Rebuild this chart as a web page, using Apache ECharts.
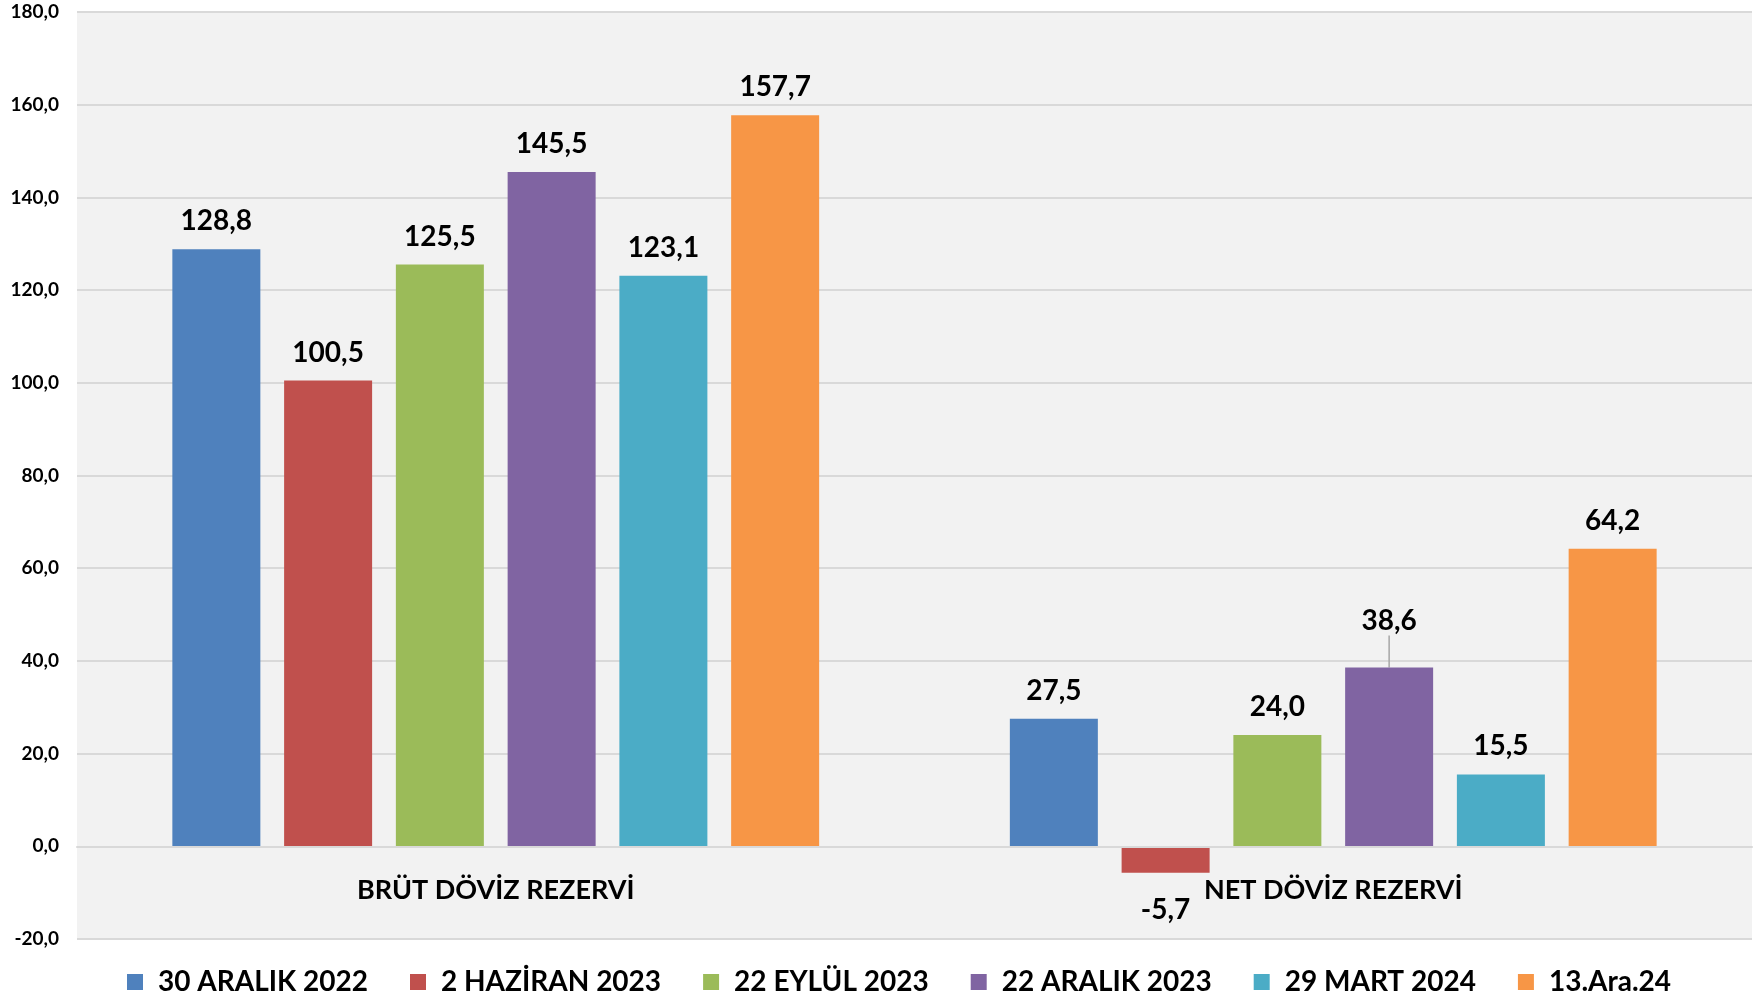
<!DOCTYPE html>
<html>
<head>
<meta charset="utf-8">
<script src="https://cdn.jsdelivr.net/npm/echarts@6/dist/echarts.min.js"></script>
<style>
html,body{margin:0;padding:0;background:#fff;}
#chart{width:1764px;height:996px;}
</style>
</head>
<body>
<div id="chart"></div>
<script>
var categories = ['BRÜT DÖVİZ REZERVİ', 'NET DÖVİZ REZERVİ'];
var seriesNames = ['30 ARALIK 2022', '2 HAZİRAN 2023', '22 EYLÜL 2023', '22 ARALIK 2023', '29 MART 2024', '13.Ara.24'];
var s1 = [128.8, 27.5];
var s2 = [100.5, -5.7];
var s3 = [125.5, 24.0];
var s4 = [145.5, 38.6];
var s5 = [123.1, 15.5];
var s6 = [157.7, 64.2];
var yTicks = { min: -20, max: 180, interval: 20 };
var colors = ['#4F81BD', '#C0504D', '#9BBB59', '#8064A2', '#4BACC6', '#F79646'];

var FONT = 'Lato';
var GRID = { left: 77, right: 12, top: 12, bottom: 57 };
var H = 996;
var gridH = H - GRID.top - GRID.bottom;
// offset to move the category axis from the grid bottom (min) up to zero
var zeroOffset = -gridH * (0 - yTicks.min) / (yTicks.max - yTicks.min);

function fmt(v) { return Number(v).toFixed(1).replace('.', ','); }

var allValues = [s1, s2, s3, s4, s5, s6];
var series = allValues.map(function (vals, i) {
  return {
    name: seriesNames[i],
    type: 'bar',
    barWidth: 88,
    barGap: '27%',
    itemStyle: { color: colors[i] },
    data: vals.map(function (v, j) {
      var d = { value: v };
      if (v < 0) d.label = { position: 'bottom', distance: 23 };
      if (i === 3 && j === 1) d.labelLine = { show: true, lineStyle: { color: '#a6a6a6', width: 1.5 } };
      return d;
    }),
    label: {
      show: true,
      position: 'top',
      distance: 14,
      fontFamily: FONT,
      fontWeight: 'bold',
      fontSize: 28,
      color: '#000',
      formatter: function (p) { return fmt(p.value); }
    },
    labelLine: { show: false },
    labelLayout: i === 3 ? function (p) { return p.dataIndex === 1 ? { dy: -18 } : {}; } : undefined
  };
});

var chart = echarts.init(document.getElementById('chart'));
chart.setOption({
  backgroundColor: '#ffffff',
  animation: false,
  grid: {
    left: GRID.left, right: GRID.right, top: GRID.top, bottom: GRID.bottom,
    show: true, backgroundColor: '#f2f2f2', borderWidth: 0
  },
  legend: {
    data: seriesNames,
    top: 963,
    left: 122,
    icon: 'rect',
    itemWidth: 16,
    itemHeight: 16,
    itemGap: 42,
    textStyle: { fontFamily: FONT, fontWeight: 'bold', fontSize: 28, color: '#000', padding: [0, 0, 0, 10] }
  },
  xAxis: {
    type: 'category',
    data: categories,
    offset: zeroOffset,
    axisLine: { onZero: false, lineStyle: { color: '#d9d9d9', width: 2 } },
    axisTick: { show: false },
    axisLabel: { fontFamily: FONT, fontWeight: 'bold', fontSize: 27, color: '#000', margin: 30 },
    z: 3
  },
  yAxis: {
    type: 'value',
    min: yTicks.min,
    max: yTicks.max,
    interval: yTicks.interval,
    axisLine: { show: false },
    axisTick: { show: false },
    splitLine: { lineStyle: { color: '#d9d9d9', width: 2 } },
    axisLabel: { fontFamily: FONT, fontWeight: 'bold', fontSize: 19, color: '#000', margin: 18, formatter: fmt }
  },
  series: series
});
</script>
</body>
</html>
